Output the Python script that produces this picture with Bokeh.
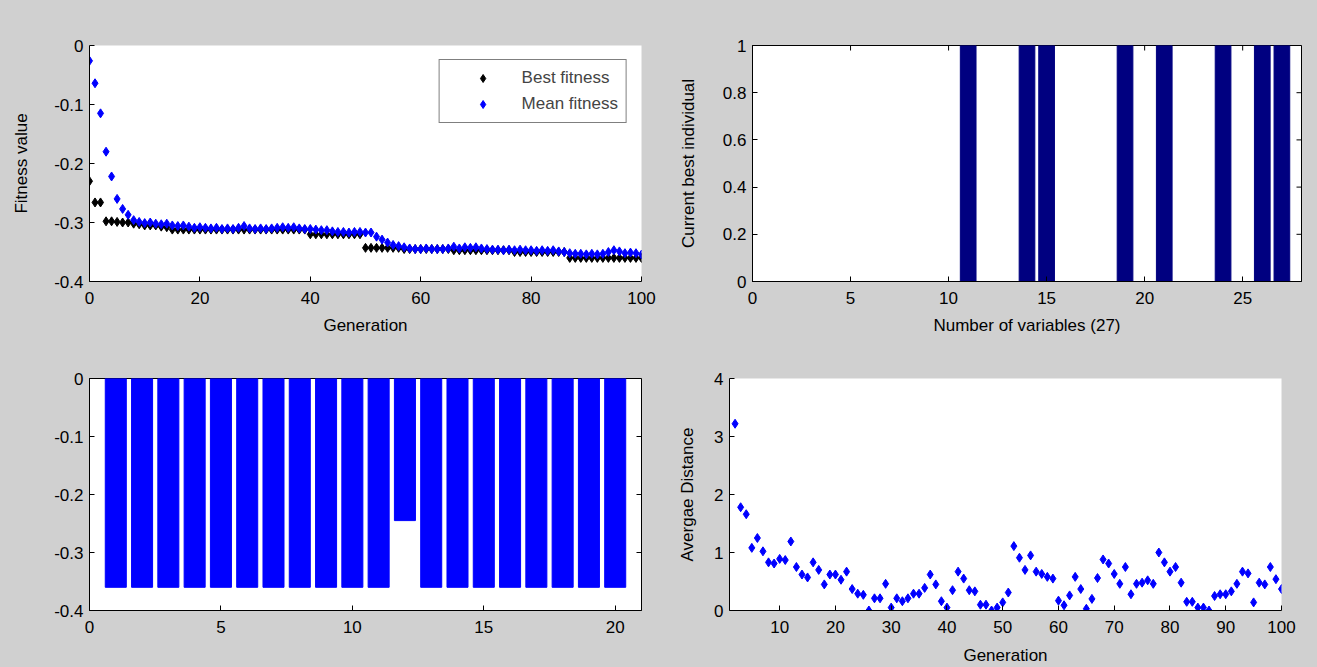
import math
from bokeh.plotting import figure
from bokeh.layouts import column, row
from bokeh.models import Range1d, FixedTicker, Legend, LegendItem, ColumnDataSource, Label
from bokeh.embed import file_html
from bokeh.resources import INLINE

# ---------------- data ----------------
generations = list(range(0, 101))
best_fitness = [
    -0.230, -0.266, -0.266, -0.298, -0.298, -0.299, -0.300, -0.300, -0.302, -0.303,
    -0.305, -0.305, -0.305, -0.307, -0.308, -0.312, -0.312, -0.312, -0.312, -0.312,
    -0.312, -0.312, -0.312, -0.312, -0.312, -0.312, -0.312, -0.312, -0.312, -0.312,
    -0.312, -0.312, -0.312, -0.312, -0.312, -0.312, -0.312, -0.312, -0.312, -0.312,
    -0.320, -0.320, -0.320, -0.320, -0.320, -0.320, -0.320, -0.320, -0.320, -0.320,
    -0.343, -0.343, -0.343, -0.343, -0.343, -0.343, -0.343, -0.345, -0.345, -0.345,
    -0.345, -0.345, -0.345, -0.345, -0.345, -0.345, -0.347, -0.347, -0.347, -0.347,
    -0.347, -0.347, -0.347, -0.347, -0.347, -0.347, -0.347, -0.350, -0.350, -0.350,
    -0.350, -0.350, -0.350, -0.350, -0.350, -0.350, -0.350, -0.360, -0.360, -0.360,
    -0.360, -0.360, -0.360, -0.360, -0.360, -0.360, -0.360, -0.360, -0.360, -0.360,
    -0.36014,
]
mean_fitness = [
    -0.026, -0.064, -0.115, -0.180, -0.222, -0.260, -0.277, -0.287, -0.296, -0.299,
    -0.301, -0.300, -0.302, -0.303, -0.302, -0.305, -0.306, -0.305, -0.307, -0.309,
    -0.308, -0.309, -0.310, -0.309, -0.311, -0.310, -0.311, -0.309, -0.306, -0.310,
    -0.311, -0.310, -0.311, -0.310, -0.309, -0.308, -0.309, -0.308, -0.310, -0.311,
    -0.311, -0.312, -0.313, -0.313, -0.315, -0.316, -0.316, -0.317, -0.316, -0.316,
    -0.317, -0.317, -0.324, -0.329, -0.334, -0.338, -0.340, -0.342, -0.344, -0.345,
    -0.345, -0.344, -0.345, -0.345, -0.345, -0.344, -0.341, -0.344, -0.342, -0.343,
    -0.342, -0.344, -0.345, -0.346, -0.346, -0.347, -0.346, -0.347, -0.346, -0.347,
    -0.347, -0.348, -0.347, -0.348, -0.347, -0.349, -0.350, -0.352, -0.353, -0.353,
    -0.354, -0.353, -0.354, -0.353, -0.350, -0.347, -0.349, -0.352, -0.351, -0.352,
    -0.35427,
]
best_title = "Best: -0.36014 Mean: -0.35427"

variable_index = list(range(1, 28))
best_individual = [0, 0, 0, 0, 0, 0, 0, 0, 0, 0, 1, 0, 0, 1, 1, 0, 0, 0, 1, 0,
                   1, 0, 0, 1, 0, 1, 1]

individual_index = list(range(1, 21))
individual_fitness = [-0.36, -0.36, -0.36, -0.36, -0.36, -0.36, -0.36, -0.36, -0.36, -0.36,
                      -0.36, -0.245, -0.36, -0.36, -0.36, -0.36, -0.36, -0.36, -0.36, -0.36]

distance_generation = list(range(2, 101))
avg_distance = [
    3.22, 1.78, 1.66, 1.08, 1.25, 1.02, 0.83, 0.81, 0.89, 0.87,
    1.19, 0.75, 0.62, 0.57, 0.83, 0.70, 0.45, 0.62, 0.62, 0.53,
    0.67, 0.37, 0.29, 0.27, 0.00, 0.21, 0.21, 0.46, 0.05, 0.21,
    0.16, 0.21, 0.29, 0.29, 0.39, 0.62, 0.45, 0.16, 0.05, 0.35,
    0.67, 0.55, 0.35, 0.33, 0.10, 0.10, 0.00, 0.05, 0.14, 0.31,
    1.11, 0.91, 0.70, 0.95, 0.67, 0.63, 0.58, 0.55, 0.17, 0.09,
    0.26, 0.58, 0.37, 0.03, 0.20, 0.56, 0.88, 0.81, 0.63, 0.46,
    0.75, 0.28, 0.46, 0.48, 0.52, 0.46, 1.00, 0.83, 0.67, 0.75,
    0.48, 0.15, 0.15, 0.05, 0.05, 0.00, 0.25, 0.28, 0.28, 0.33,
    0.46, 0.67, 0.64, 0.14, 0.48, 0.45, 0.75, 0.54, 0.37,
]

fit_xticks = [0, 20, 40, 60, 80, 100]
fit_yticks = [0, -0.1, -0.2, -0.3, -0.4]
fit_ylabels = {0: "0", -0.1: "-0.1", -0.2: "-0.2", -0.3: "-0.3", -0.4: "-0.4"}
var_xticks = [0, 5, 10, 15, 20, 25]
var_yticks = [0, 0.2, 0.4, 0.6, 0.8, 1]
ind_xticks = [0, 5, 10, 15, 20]
dist_xticks = [10, 20, 30, 40, 50, 60, 70, 80, 90, 100]
dist_yticks = [0, 1, 2, 3, 4]

# ---------------- style ----------------
GREY = "#D0D0D0"
FONT = "Liberation Sans"
FS = "17px"


def style_fig(p, title, lift):
    p.background_fill_color = "white"
    p.border_fill_color = GREY
    p.outline_line_color = None
    p.xgrid.visible = False
    p.ygrid.visible = False
    for ax in p.xaxis + p.yaxis:
        ax.major_tick_in = 5
        ax.major_tick_out = 0
        ax.minor_tick_in = 0
        ax.minor_tick_out = 0
        ax.axis_line_color = "black"
        ax.major_tick_line_color = "black"
        ax.major_label_text_font = FONT
        ax.major_label_text_font_size = FS
        ax.major_label_text_color = "black"
        ax.axis_label_text_font = FONT
        ax.axis_label_text_font_size = FS
        ax.axis_label_text_font_style = "normal"
        ax.axis_label_text_color = "black"
        ax.major_label_standoff = 6
    for ax in p.below:
        ax.major_label_standoff = 10
    # title: centred over the frame, floated a fixed number of pixels above its top edge
    xc = (p.x_range.start + p.x_range.end) / 2.0
    t = Label(x=xc, y=p.y_range.end, y_offset=lift, text=title,
              text_align="center", text_baseline="middle",
              text_font=FONT, text_font_size=FS, text_color="black")
    p.add_layout(t)


def box_ticks(p, xticks, yticks):
    """MATLAB 'box on': outline plus inward ticks along top and right edges."""
    p.outline_line_color = "black"
    top_y = p.y_range.end
    right_x = p.x_range.end
    p.scatter(xticks, [top_y] * len(xticks), marker="dash", angle=math.pi / 2,
              size=10, line_color="black", line_width=1)
    p.scatter([right_x] * len(yticks), yticks, marker="dash",
              size=10, line_color="black", line_width=1)


# ---------------- top-left: fitness ----------------
p1 = figure(width=671, height=340, output_backend="svg", toolbar_location=None, title=None,
            x_range=Range1d(0, 100), y_range=Range1d(-0.4, 0),
            min_border_left=89, min_border_right=30, min_border_top=45, min_border_bottom=59)
style_fig(p1, best_title, 27)
src1 = ColumnDataSource(dict(g=generations, best=best_fitness, mean=mean_fitness))
r_best = p1.scatter("g", "best", source=src1, marker="diamond", size=9,
                    fill_color="black", line_color="black")
r_mean = p1.scatter("g", "mean", source=src1, marker="diamond", size=9,
                    fill_color="blue", line_color="blue")
p1.below[0].ticker = FixedTicker(ticks=fit_xticks)
p1.left[0].ticker = FixedTicker(ticks=fit_yticks)
p1.left[0].major_label_overrides = fit_ylabels
p1.below[0].axis_label = "Generation"
p1.left[0].axis_label = "Fitness value"
p1.below[0].axis_label_standoff = 9
p1.left[0].axis_label_standoff = 20
legend = Legend(items=[LegendItem(label="Best fitness", renderers=[r_best]),
                       LegendItem(label="Mean fitness", renderers=[r_mean])],
                location="top_right")
legend.margin = 14
legend.padding = 8
legend.spacing = 6
legend.glyph_width = 70
legend.glyph_height = 20
legend.label_height = 20
legend.label_standoff = 4
legend.label_text_font = FONT
legend.label_text_font_size = FS
legend.border_line_color = "black"
legend.border_line_width = 1
legend.background_fill_color = "white"
legend.background_fill_alpha = 1.0
p1.add_layout(legend, "center")

# ---------------- top-right: current best individual ----------------
p2 = figure(width=646, height=340, output_backend="svg", toolbar_location=None, title=None,
            x_range=Range1d(0, 28), y_range=Range1d(0, 1),
            min_border_left=81, min_border_right=16, min_border_top=45, min_border_bottom=59)
style_fig(p2, "Current Best Individual", 27)
box_ticks(p2, var_xticks, var_yticks)
p2.vbar(x=variable_index, top=best_individual, bottom=0, width=0.8,
        fill_color="#000080", line_color="#000080")
p2.below[0].ticker = FixedTicker(ticks=var_xticks)
p2.left[0].ticker = FixedTicker(ticks=var_yticks)
p2.left[0].major_label_overrides = {0: "0", 1: "1"}
p2.below[0].axis_label = "Number of variables (27)"
p2.left[0].axis_label = "Current best individual"
p2.below[0].axis_label_standoff = 9
p2.left[0].axis_label_standoff = 22

# ---------------- bottom-left: fitness of each individual ----------------
p3 = figure(width=671, height=327, output_backend="svg", toolbar_location=None, title=None,
            x_range=Range1d(0, 21), y_range=Range1d(-0.4, 0),
            min_border_left=89, min_border_right=30, min_border_top=38, min_border_bottom=55)
style_fig(p3, "Fitness of Each Individual", 25)
box_ticks(p3, ind_xticks, fit_yticks)
p3.vbar(x=individual_index, top=0, bottom=individual_fitness, width=0.8,
        fill_color="blue", line_color="blue")
p3.below[0].ticker = FixedTicker(ticks=ind_xticks)
p3.left[0].ticker = FixedTicker(ticks=fit_yticks)
p3.left[0].major_label_overrides = fit_ylabels

# ---------------- bottom-right: average distance ----------------
p4 = figure(width=646, height=327, output_backend="svg", toolbar_location=None, title=None,
            x_range=Range1d(1, 100), y_range=Range1d(0, 4),
            min_border_left=58, min_border_right=36, min_border_top=38, min_border_bottom=55)
style_fig(p4, "Average Distance Between Individuals", 25)
p4.scatter(distance_generation, avg_distance, marker="diamond", size=9,
           fill_color="blue", line_color="blue")
p4.below[0].ticker = FixedTicker(ticks=dist_xticks)
p4.left[0].ticker = FixedTicker(ticks=dist_yticks)
p4.below[0].axis_label = "Generation"
p4.left[0].axis_label = "Avergae Distance"
p4.below[0].axis_label_standoff = 10
p4.left[0].axis_label_standoff = 14

layout = column(row(p1, p2), row(p3, p4))
layout.styles = {"background-color": GREY}

html = file_html(layout, INLINE, title="GA plots")
html = html.replace("<head>", "<head><style>html,body{background:" + GREY + ";}</style>", 1)
open("out.html", "w").write(html)
